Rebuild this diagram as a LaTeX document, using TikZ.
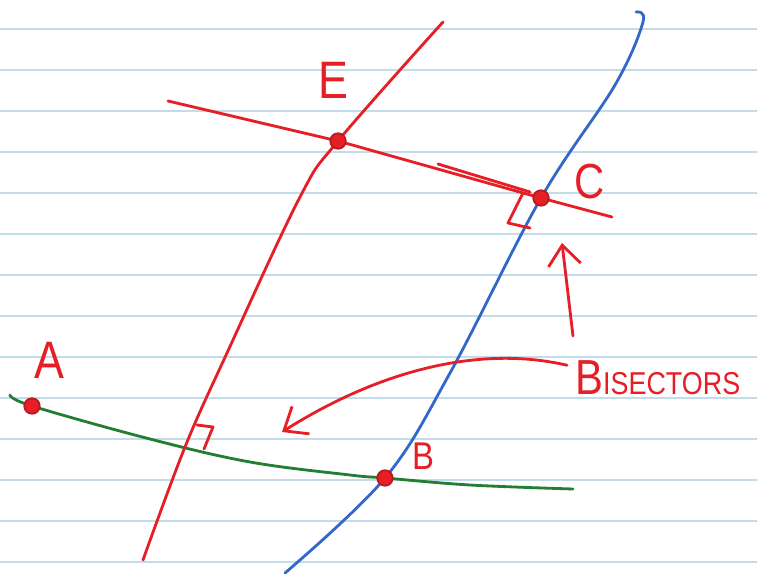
\documentclass[tikz,border=0pt]{standalone}
\usepackage{fontspec}
\newfontfamily\handfont[FakeStretch=0.85]{Liberation Sans}
\usepackage{xcolor}
\usetikzlibrary{arrows.meta}
\definecolor{penred}{RGB}{230,30,38}
\definecolor{penblue}{RGB}{50,105,200}
\definecolor{pengreen}{RGB}{35,125,50}
\definecolor{ruleblue}{RGB}{195,220,235}

\begin{document}
\begin{tikzpicture}[
    x=0.02cm, y=-0.02cm,
    ruling/.style={ruleblue, line width=1.2pt},
    pen/.style={line width=1.6pt, line cap=round, line join=round},
    dot/.style={circle, draw=penred!80!black, fill=penred, line width=1pt, inner sep=0pt, minimum size=0.31cm},
    lbl/.style={text=penred, font=\handfont\fontsize{#1}{#1}\selectfont, inner sep=0pt},
    arrow/.style={pen, penred, -{Straight Barb[length=0.4cm, width=0.65cm]}}
]
    \fill[white] (0,0) rectangle (757,578);
    \useasboundingbox (0,0) rectangle (757,578);
    % ruled paper
    \foreach \k in {0,...,13}
        \draw[ruling] (0,29+41*\k) -- (757,29+41*\k);

    \coordinate (A) at (32,406);
    \coordinate (B) at (385,478);
    \coordinate (C) at (541,198);
    \coordinate (E) at (338,141);
    \coordinate (gstart) at (10,395);
    \coordinate (gend) at (573,489);
    \coordinate (bstart) at (285,573);
    \coordinate (bend) at (636,12);
    \coordinate (rstart) at (143,560);
    \coordinate (rend) at (443,22);
    \coordinate (lstart) at (168,101);
    \coordinate (lend) at (612,217);

    % segment A--B
    \draw[pen, pengreen] plot[smooth, tension=0.6] coordinates {(gstart) (A) (150,439) (250,462) (350,475) (B) (470,485) (gend)};
    % bisectors
    \draw[pen, penblue] plot[smooth, tension=0.6] coordinates {(bstart) (B) (450,373) (C) (615,85) (643,22) (bend)};
    \draw[pen, penred] plot[smooth, tension=0.6] coordinates {(rstart) (185,447) (227,353) (300,197) (E) (rend)};
    \draw[pen, penred] (lstart) -- (E) -- (C) -- (lend);
    \draw[pen, penred] (438,164) -- (530,192);
    % right angles
    \draw[pen, penred] (523,193) -- (508,223) -- (530,228);
    \draw[pen, penred] (197,425) -- (213,427) -- (204,449);

    \node[dot] (dotA) at (A) {};
    \node[dot] (dotB) at (B) {};
    \node[dot] (dotC) at (C) {};
    \node[dot] (dotE) at (E) {};

    \node[lbl=30] (labA) at (49,360) {A};
    \node[lbl=22] (labB) at (423,456) {B};
    \node[lbl=28] (labC) at (590,182) {C};
    \node[lbl=30] (labE) at (333,80) {E};
    \node[lbl=28, anchor=base west] (bis) at (575,394) {B{\fontsize{18}{18}\selectfont ISECTORS}};

    \draw[arrow] (bis.west) ++(-8,-12) coordinate (arrfrom) .. controls (480,345) and (380,370) .. (282,432) coordinate (arrto);
    \coordinate (upfrom) at (573,336);
    \coordinate (upto) at (562,243);
    \draw[arrow] (upfrom) -- (upto);
\end{tikzpicture}
\end{document}
